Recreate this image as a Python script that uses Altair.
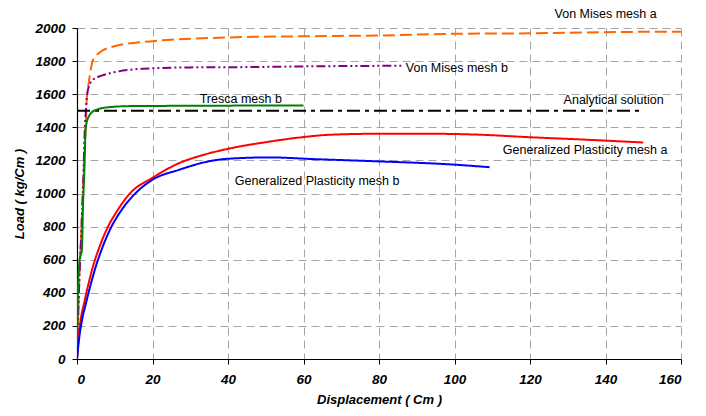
import altair as alt
import pandas as pd

# ---- data ----
series_names = [
    "Von Mises mesh a",
    "Von Mises mesh b",
    "Analytical solution",
    "Tresca mesh b",
    "Generalized Plasticity mesh a",
    "Generalized Plasticity mesh b",
]

vm_a_x = [0, 0.5, 1.2, 1.7, 2.1, 2.4, 2.5, 3.0, 3.5, 4.1, 5, 6.7, 9.1, 19.3, 40, 60, 80, 100, 120, 140, 160]
vm_a_y = [0, 400, 800, 1100, 1300, 1450, 1540, 1650, 1730, 1798, 1830, 1863, 1885, 1919, 1943, 1950, 1955, 1965, 1968, 1975, 1978]

vm_b_x = [0, 0.5, 1.2, 1.7, 2.0, 2.3, 2.9, 4.2, 6.5, 17.5, 30, 45.7, 60, 86.5]
vm_b_y = [0, 400, 800, 1100, 1350, 1482, 1627, 1687, 1712, 1754, 1762, 1764, 1768, 1772]

an_x = [0, 150]
an_y = [1500, 1500]

tr_x = [0, 0.2, 0.7, 1.3, 1.6, 1.95, 2.05, 2.3, 3.4, 5, 8.7, 14, 30, 60]
tr_y = [0, 370, 600, 660, 940, 1140, 1220, 1400, 1476, 1505, 1522, 1528, 1530, 1532]

gpa_x = [0, 0.5, 1.0, 2.0, 3.0, 4.5, 6, 8, 10.5, 14, 20, 27, 33, 40, 50, 60, 67, 80, 93, 107, 120, 135, 150]
gpa_y = [0, 150, 240, 350, 450, 580, 680, 790, 890, 1000, 1095, 1183, 1230, 1270, 1310, 1341, 1355, 1361, 1361, 1355, 1340, 1325, 1308]

gpb_x = [0, 0.6, 1.2, 2.3, 3.4, 5, 6.5, 8.7, 11.5, 15, 20, 27, 36, 40, 51, 62.5, 80, 98, 109.3]
gpb_y = [0, 130, 220, 330, 430, 560, 660, 780, 890, 990, 1083, 1143, 1199, 1210, 1218, 1208, 1194, 1177, 1159]

colors = ["#FF6600", "#800080", "#000000", "#008000", "#FF0000", "#0000FF"]
dashes = [[12, 5], [9, 3, 2, 3, 2, 3], [13, 5, 4, 5], [1, 0], [1, 0], [1, 0]]
widths = [2, 2, 3, 2, 2, 2]

label_x = [126.5, 87.1, 128.9, 32.5, 112.8, 41.8]
label_y = [2086, 1758, 1566, 1572, 1264, 1076]

x_ticks = [0, 20, 40, 60, 80, 100, 120, 140, 160]
y_ticks = [0, 200, 400, 600, 800, 1000, 1200, 1400, 1600, 1800, 2000]

# ---- build tables ----
xs = [vm_a_x, vm_b_x, an_x, tr_x, gpa_x, gpb_x]
ys = [vm_a_y, vm_b_y, an_y, tr_y, gpa_y, gpb_y]
rows = []
for name, sx, sy in zip(series_names, xs, ys):
    for i, (a, b) in enumerate(zip(sx, sy)):
        rows.append({"series": name, "x": a, "y": b, "i": i})
df = pd.DataFrame(rows)
labels = pd.DataFrame({"series": series_names, "x": label_x, "y": label_y})

FONT = "Liberation Sans"

xscale = alt.Scale(domain=[0, 160], nice=False)
yscale = alt.Scale(domain=[0, 2000], nice=False)
xaxis = alt.Axis(values=x_ticks, title="Displacement ( Cm )", format="d",
                 titlePadding=8, labelPadding=8, labelOverlap=False)
yaxis = alt.Axis(values=y_ticks, title="Load ( kg/Cm )", format="d",
                 titlePadding=8, labelPadding=7, labelOverlap=False)

lines = alt.Chart(df).mark_line(clip=True, interpolate="monotone").encode(
    x=alt.X("x:Q", scale=xscale, axis=xaxis),
    y=alt.Y("y:Q", scale=yscale, axis=yaxis),
    color=alt.Color("series:N", scale=alt.Scale(domain=series_names, range=colors), legend=None),
    strokeDash=alt.StrokeDash("series:N", scale=alt.Scale(domain=series_names, range=dashes), legend=None),
    strokeWidth=alt.StrokeWidth("series:N", scale=alt.Scale(domain=series_names, range=widths), legend=None),
    order="i:Q",
)

texts = alt.Chart(labels).mark_text(
    align="left", baseline="middle", font=FONT, fontSize=12.5, color="#000000"
).encode(
    x=alt.X("x:Q", scale=xscale, axis=xaxis),
    y=alt.Y("y:Q", scale=yscale, axis=yaxis),
    text="series:N",
)

chart = (lines + texts).properties(
    width=604, height=331,
    background="white",
    autosize=alt.AutoSizeParams(type="none"),
    padding={"left": 77, "top": 28, "right": 25, "bottom": 57},
).configure_view(stroke=None).configure_axis(
    labelFont=FONT, labelFontSize=13.5, labelFontStyle="italic", labelFontWeight="bold",
    labelColor="#000000",
    titleFont=FONT, titleFontSize=13, titleFontStyle="italic", titleFontWeight="bold",
    titleColor="#000000",
    grid=True, gridColor="#a6a6a6", gridDash=[8, 5], gridWidth=1,
    domainColor="#000000", domainWidth=1.2,
    tickColor="#000000", tickSize=5,
)

chart.save("out.html", embed_options={"renderer": "svg", "actions": False})
